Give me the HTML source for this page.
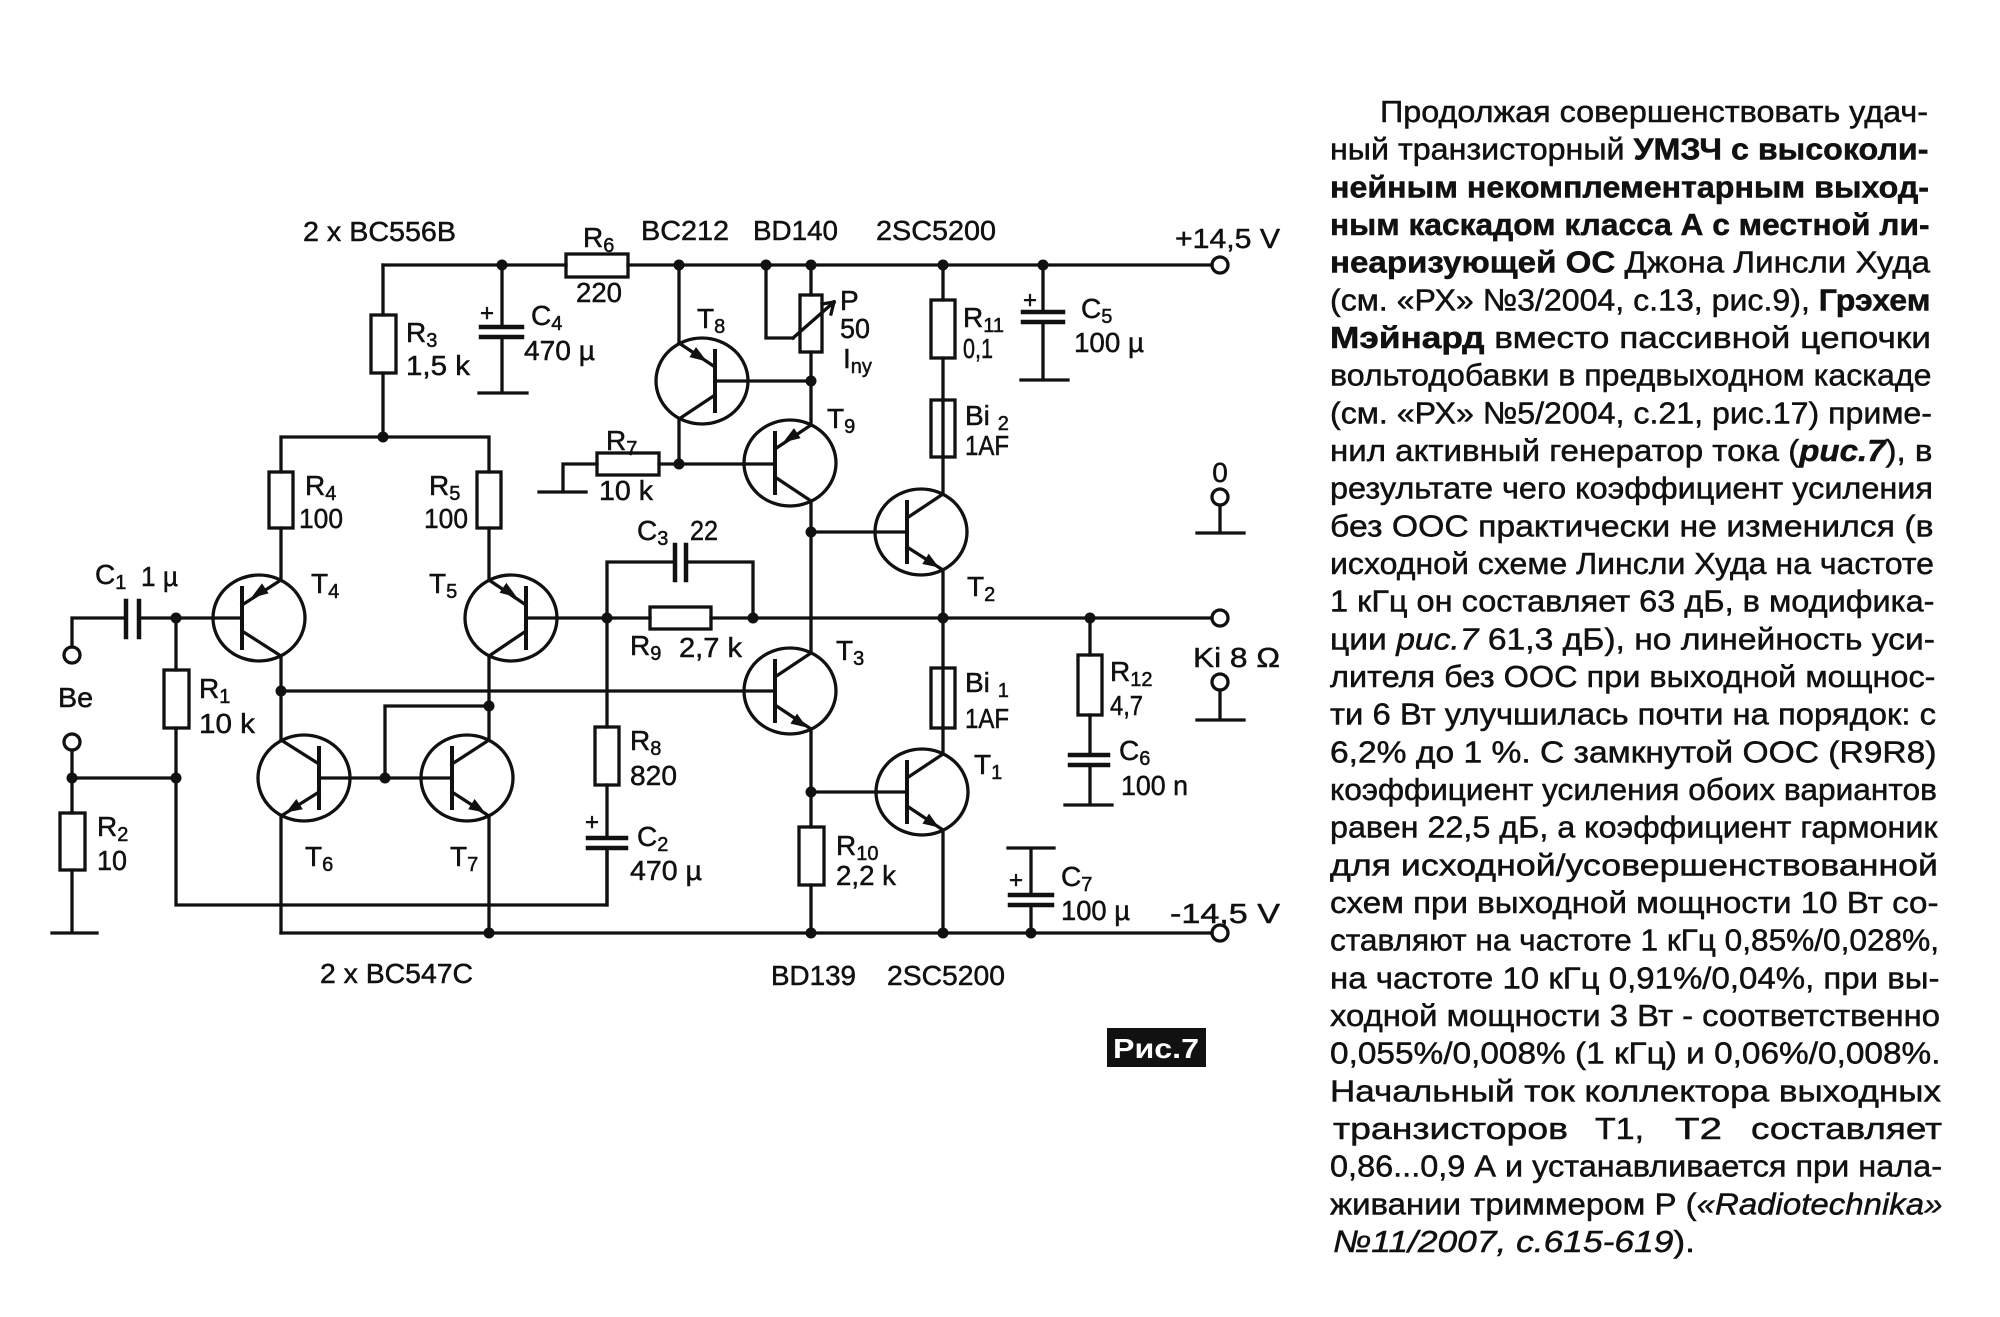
<!DOCTYPE html>
<html>
<head>
<meta charset="utf-8">
<style>
html,body{margin:0;padding:0;background:#fff;}
body{width:2000px;height:1317px;overflow:hidden;}
svg{display:block;}
</style>
</head>
<body>
<svg width="2000" height="1317" viewBox="0 0 2000 1317" xmlns="http://www.w3.org/2000/svg">
<rect x="0" y="0" width="2000" height="1317" fill="#fff"/>
<g stroke="#111" stroke-width="3.3" fill="none" stroke-linecap="square" stroke-linejoin="miter">
  <!-- top rail -->
  <path d="M383 265 H566 M628 265 H1212"/>
  <rect x="566" y="254" width="62" height="23"/>
  <!-- R3 -->
  <path d="M383 265 V315 M383 373 V437"/>
  <rect x="371" y="315" width="25" height="58"/>
  <!-- C4 -->
  <path d="M502 265 V327 M502 337 V393 M479 393 H527"/>
  <path d="M481 327 H522 M481 337 H522" stroke-width="4.5"/>
  <!-- R4 R5 -->
  <path d="M281 437 H489 M281 437 V472 M281 528 V580 M489 437 V472 M489 528 V580"/>
  <rect x="269" y="472" width="24" height="56"/>
  <rect x="477" y="472" width="24" height="56"/>
  <!-- T4 -->
  <ellipse cx="259" cy="618" rx="46" ry="43"/>
  <path d="M242 588 V648" stroke-width="4"/>
  <path d="M281 580 L242 605 M242 631 L281 656 M281 656 V740"/>
  <!-- input -->
  <path d="M72 647 V618 H126 M139 618 H242"/>
  <path d="M126 601 V637 M139 601 V637" stroke-width="4.5"/>
  <circle cx="72" cy="655" r="8"/>
  <circle cx="72" cy="742" r="8"/>
  <path d="M72 750 V813 M72 870 V933 M52 933 H97 M72 778 H176"/>
  <rect x="60" y="813" width="25" height="57"/>
  <!-- R1 -->
  <path d="M176 618 V670 M176 728 V905 H607 V848"/>
  <rect x="164" y="670" width="25" height="58"/>
  <!-- T5 -->
  <ellipse cx="511" cy="618" rx="46" ry="43"/>
  <path d="M526 588 V648" stroke-width="4"/>
  <path d="M489 580 L526 605 M526 631 L489 656 M489 656 V740 M526 618 H650"/>
  <!-- T6 -->
  <ellipse cx="304" cy="778" rx="46" ry="43"/>
  <path d="M319 748 V808" stroke-width="4"/>
  <path d="M319 764 L281 740 M319 792 L281 816 M281 816 V933"/>
  <!-- T7 -->
  <ellipse cx="467" cy="778" rx="46" ry="43"/>
  <path d="M452 748 V808" stroke-width="4"/>
  <path d="M452 764 L489 740 M452 792 L489 816 M489 816 V933"/>
  <path d="M319 778 H452 M385 778 V706 H489"/>
  <!-- T3 base line -->
  <path d="M281 691 H775"/>
  <!-- bottom rail -->
  <path d="M281 933 H1212"/>
  <!-- R8 C2 -->
  <path d="M607 618 V727 M607 785 V838 M607 848 V905"/>
  <rect x="595" y="727" width="24" height="58"/>
  <path d="M588 838 H626 M588 848 H626" stroke-width="4.5"/>
  <!-- C3 -->
  <path d="M607 618 V562 H675 M686 562 H753 V618"/>
  <path d="M675 545 V580 M686 545 V580" stroke-width="4.5"/>
  <!-- R9 and output line -->
  <rect x="650" y="607" width="61" height="22"/>
  <path d="M711 618 H1212"/>
  <!-- T8 -->
  <path d="M679 265 V343"/>
  <ellipse cx="702" cy="381" rx="46" ry="43"/>
  <path d="M715 351 V411" stroke-width="4"/>
  <path d="M679 343 L715 367 M715 395 L679 419 M679 419 V464 M715 381 H811"/>
  <!-- R7 -->
  <path d="M539 492 H586 M563 492 V464 H597 M659 464 H775"/>
  <rect x="597" y="453" width="62" height="22"/>
  <!-- T9 -->
  <ellipse cx="790" cy="463" rx="46" ry="43"/>
  <path d="M775 433 V493" stroke-width="4"/>
  <path d="M811 425 L775 449 M775 477 L811 501"/>
  <!-- P -->
  <path d="M766 265 V338 H793 M793 338 L834 302 M834 302 L822 304 M834 302 L831 314"/>
  <rect x="800" y="295" width="22" height="57"/>
  <path d="M811 265 V295 M811 352 V425 M811 501 V653"/>
  <path d="M811 532 H907"/>
  <!-- T3 -->
  <ellipse cx="790" cy="691" rx="46" ry="43"/>
  <path d="M775 661 V721" stroke-width="4"/>
  <path d="M775 677 L811 653 M775 705 L811 729 M811 729 V827 M811 885 V933 M811 792 H907"/>
  <rect x="799" y="827" width="25" height="58"/>
  <!-- right column 943 -->
  <path d="M943 265 V300 M943 358 V400 M943 400 V457 M943 457 V494"/>
  <rect x="931" y="300" width="24" height="58"/>
  <rect x="931" y="400" width="24" height="57"/>
  <ellipse cx="921" cy="532" rx="46" ry="43"/>
  <path d="M907 502 V562" stroke-width="4"/>
  <path d="M907 518 L943 494 M907 547 L943 570 M943 570 V668 M943 668 V728 M943 728 V754"/>
  <rect x="931" y="668" width="24" height="60"/>
  <ellipse cx="922" cy="792" rx="46" ry="43"/>
  <path d="M907 762 V822" stroke-width="4"/>
  <path d="M907 778 L943 754 M907 806 L943 830 M943 830 V933"/>
  <!-- C5 -->
  <path d="M1043 265 V312 M1043 322 V380 M1021 380 H1068"/>
  <path d="M1023 312 H1063 M1023 322 H1063" stroke-width="4.5"/>
  <!-- R12 C6 -->
  <path d="M1090 618 V655 M1090 715 V755 M1090 765 V805 M1065 805 H1112"/>
  <rect x="1078" y="655" width="24" height="60"/>
  <path d="M1070 755 H1108 M1070 765 H1108" stroke-width="4.5"/>
  <!-- C7 -->
  <path d="M1008 848 H1054 M1031 848 V895 M1031 905 V933"/>
  <path d="M1010 895 H1052 M1010 905 H1052" stroke-width="4.5"/>
  <!-- terminals -->
  <circle cx="1220" cy="265" r="8"/>
  <circle cx="1220" cy="618" r="8"/>
  <circle cx="1220" cy="933" r="8"/>
  <circle cx="1220" cy="497" r="8"/>
  <path d="M1220 505 V533 M1197 533 H1244"/>
  <circle cx="1220" cy="682" r="8"/>
  <path d="M1220 690 V720 M1197 720 H1244"/>
</g>
<!-- arrowheads -->
<g fill="#111" stroke="none">
  <polygon points="286,812.5 296.4,799 302.8,809.2"/>
  <polygon points="485,812.5 468.2,809.2 474.6,799"/>
  <polygon points="807,727.5 790.4,723.6 797,713.6"/>
  <polygon points="939,567.5 922.3,564 928.7,553.8"/>
  <polygon points="939,827.5 922.4,823.6 929,813.6"/>
  <polygon points="251,598 262,583.4 268.6,593.4"/>
  <polygon points="517,597.5 499.5,592.7 506.4,582.9"/>
  <polygon points="707,361.5 689.4,357.1 696,347.1"/>
  <polygon points="783,442.5 794,428.1 800.6,438.1"/>
  <!-- dots -->
  <circle cx="502" cy="265" r="5.5"/>
  <circle cx="679" cy="265" r="5.5"/>
  <circle cx="766" cy="265" r="5.5"/>
  <circle cx="811" cy="265" r="5.5"/>
  <circle cx="943" cy="265" r="5.5"/>
  <circle cx="1043" cy="265" r="5.5"/>
  <circle cx="383" cy="437" r="5.5"/>
  <circle cx="176" cy="618" r="5.5"/>
  <circle cx="607" cy="618" r="5.5"/>
  <circle cx="753" cy="618" r="5.5"/>
  <circle cx="943" cy="618" r="5.5"/>
  <circle cx="1090" cy="618" r="5.5"/>
  <circle cx="281" cy="691" r="5.5"/>
  <circle cx="489" cy="706" r="5.5"/>
  <circle cx="385" cy="778" r="5.5"/>
  <circle cx="72" cy="778" r="5.5"/>
  <circle cx="176" cy="778" r="5.5"/>
  <circle cx="679" cy="464" r="5.5"/>
  <circle cx="811" cy="381" r="5.5"/>
  <circle cx="811" cy="532" r="5.5"/>
  <circle cx="811" cy="792" r="5.5"/>
  <circle cx="489" cy="933" r="5.5"/>
  <circle cx="811" cy="933" r="5.5"/>
  <circle cx="943" cy="933" r="5.5"/>
  <circle cx="1031" cy="933" r="5.5"/>
</g>
<!-- schematic labels -->
<g font-family="'Liberation Sans', 'DejaVu Sans', sans-serif" font-size="28" fill="#111" stroke="#111" stroke-width="0.5">
  <text x="303" y="241" textLength="153" lengthAdjust="spacingAndGlyphs">2 x BC556B</text>
  <text x="583" y="247">R<tspan font-size="20" dy="5">6</tspan></text>
  <text x="576" y="302" textLength="46" lengthAdjust="spacingAndGlyphs">220</text>
  <text x="641" y="240" textLength="88" lengthAdjust="spacingAndGlyphs">BC212</text>
  <text x="753" y="240" textLength="85" lengthAdjust="spacingAndGlyphs">BD140</text>
  <text x="876" y="240" textLength="120" lengthAdjust="spacingAndGlyphs">2SC5200</text>
  <text x="1175" y="248" textLength="105" lengthAdjust="spacingAndGlyphs">+14,5 V</text>
  <text x="406" y="342">R<tspan font-size="20" dy="5">3</tspan></text>
  <text x="406" y="375" textLength="64" lengthAdjust="spacingAndGlyphs">1,5 k</text>
  <text x="487" y="321" text-anchor="middle" font-size="24">+</text>
  <text x="531" y="325">C<tspan font-size="20" dy="5">4</tspan></text>
  <text x="524" y="360" textLength="71" lengthAdjust="spacingAndGlyphs">470 µ</text>
  <text x="697" y="328">T<tspan font-size="20" dy="5">8</tspan></text>
  <text x="840" y="310">P</text>
  <text x="840" y="338" textLength="30" lengthAdjust="spacingAndGlyphs">50</text>
  <text x="843" y="368">I<tspan font-size="20" dy="5">ny</tspan></text>
  <text x="963" y="327">R<tspan font-size="20" dy="5">11</tspan></text>
  <text x="963" y="358" textLength="30" lengthAdjust="spacingAndGlyphs">0,1</text>
  <text x="1030" y="308" text-anchor="middle" font-size="24">+</text>
  <text x="1081" y="318">C<tspan font-size="20" dy="5">5</tspan></text>
  <text x="1074" y="352" textLength="70" lengthAdjust="spacingAndGlyphs">100 µ</text>
  <text x="305" y="495">R<tspan font-size="20" dy="5">4</tspan></text>
  <text x="299" y="528" textLength="44" lengthAdjust="spacingAndGlyphs">100</text>
  <text x="429" y="495">R<tspan font-size="20" dy="5">5</tspan></text>
  <text x="424" y="528" textLength="44" lengthAdjust="spacingAndGlyphs">100</text>
  <text x="606" y="450">R<tspan font-size="20" dy="5">7</tspan></text>
  <text x="599" y="500" textLength="54" lengthAdjust="spacingAndGlyphs">10 k</text>
  <text x="827" y="428">T<tspan font-size="20" dy="5">9</tspan></text>
  <text x="965" y="425">Bi <tspan font-size="20" dy="5">2</tspan></text>
  <text x="965" y="455" textLength="44" lengthAdjust="spacingAndGlyphs">1AF</text>
  <text x="1220" y="482" text-anchor="middle">0</text>
  <text x="637" y="540">C<tspan font-size="20" dy="5">3</tspan></text>
  <text x="690" y="540" textLength="28" lengthAdjust="spacingAndGlyphs">22</text>
  <text x="95" y="584">C<tspan font-size="20" dy="5">1</tspan></text>
  <text x="141" y="586" textLength="37" lengthAdjust="spacingAndGlyphs">1 µ</text>
  <text x="311" y="593">T<tspan font-size="20" dy="5">4</tspan></text>
  <text x="429" y="593">T<tspan font-size="20" dy="5">5</tspan></text>
  <text x="967" y="596">T<tspan font-size="20" dy="5">2</tspan></text>
  <text x="58" y="707" textLength="35" lengthAdjust="spacingAndGlyphs">Be</text>
  <text x="199" y="698">R<tspan font-size="20" dy="5">1</tspan></text>
  <text x="199" y="733" textLength="56" lengthAdjust="spacingAndGlyphs">10 k</text>
  <text x="97" y="836">R<tspan font-size="20" dy="5">2</tspan></text>
  <text x="97" y="870" textLength="30" lengthAdjust="spacingAndGlyphs">10</text>
  <text x="305" y="866">T<tspan font-size="20" dy="5">6</tspan></text>
  <text x="450" y="866">T<tspan font-size="20" dy="5">7</tspan></text>
  <text x="320" y="983" textLength="153" lengthAdjust="spacingAndGlyphs">2 x BC547C</text>
  <text x="630" y="655">R<tspan font-size="20" dy="5">9</tspan></text>
  <text x="679" y="657" textLength="63" lengthAdjust="spacingAndGlyphs">2,7 k</text>
  <text x="836" y="660">T<tspan font-size="20" dy="5">3</tspan></text>
  <text x="965" y="692">Bi <tspan font-size="20" dy="5">1</tspan></text>
  <text x="965" y="728" textLength="44" lengthAdjust="spacingAndGlyphs">1AF</text>
  <text x="1110" y="681">R<tspan font-size="20" dy="5">12</tspan></text>
  <text x="1110" y="715" textLength="33" lengthAdjust="spacingAndGlyphs">4,7</text>
  <text x="1193" y="667" textLength="87" lengthAdjust="spacingAndGlyphs">Ki  8 Ω</text>
  <text x="974" y="774">T<tspan font-size="20" dy="5">1</tspan></text>
  <text x="630" y="750">R<tspan font-size="20" dy="5">8</tspan></text>
  <text x="630" y="785" textLength="47" lengthAdjust="spacingAndGlyphs">820</text>
  <text x="1119" y="760">C<tspan font-size="20" dy="5">6</tspan></text>
  <text x="1121" y="795" textLength="67" lengthAdjust="spacingAndGlyphs">100 n</text>
  <text x="836" y="855">R<tspan font-size="20" dy="5">10</tspan></text>
  <text x="836" y="885" textLength="60" lengthAdjust="spacingAndGlyphs">2,2 k</text>
  <text x="592" y="830" text-anchor="middle" font-size="24">+</text>
  <text x="637" y="846">C<tspan font-size="20" dy="5">2</tspan></text>
  <text x="630" y="880" textLength="72" lengthAdjust="spacingAndGlyphs">470 µ</text>
  <text x="1016" y="888" text-anchor="middle" font-size="24">+</text>
  <text x="1061" y="886">C<tspan font-size="20" dy="5">7</tspan></text>
  <text x="1061" y="920" textLength="69" lengthAdjust="spacingAndGlyphs">100 µ</text>
  <text x="1170" y="923" textLength="110" lengthAdjust="spacingAndGlyphs">-14,5 V</text>
  <text x="771" y="985" textLength="85" lengthAdjust="spacingAndGlyphs">BD139</text>
  <text x="887" y="985" textLength="118" lengthAdjust="spacingAndGlyphs">2SC5200</text>
</g>
<!-- Рис.7 -->
<rect x="1107" y="1028" width="99" height="39" fill="#111"/>
<text x="1113" y="1058" font-family="'Liberation Sans', 'DejaVu Sans', sans-serif" font-size="28" font-weight="bold" fill="#fff" textLength="86" lengthAdjust="spacingAndGlyphs">Рис.7</text>
<!-- article text -->
<g font-family="'Liberation Sans', 'DejaVu Sans', sans-serif" font-size="31" fill="#111" stroke="#111" stroke-width="0.5">
  <text x="1380" y="122" textLength="548" lengthAdjust="spacingAndGlyphs">Продолжая совершенствовать удач-</text>
  <text x="1330" y="159.7" textLength="598.5" lengthAdjust="spacingAndGlyphs">ный транзисторный <tspan font-weight="bold">УМЗЧ с высоколи-</tspan></text>
  <text x="1330" y="197.3" textLength="599" lengthAdjust="spacingAndGlyphs" font-weight="bold">нейным некомплементарным выход-</text>
  <text x="1330" y="235" textLength="599.5" lengthAdjust="spacingAndGlyphs" font-weight="bold">ным каскадом класса А с местной ли-</text>
  <text x="1330" y="272.7" textLength="600" lengthAdjust="spacingAndGlyphs"><tspan font-weight="bold">неаризующей ОС</tspan> Джона Линсли Худа</text>
  <text x="1330" y="310.4" textLength="600.5" lengthAdjust="spacingAndGlyphs">(см. «РХ» №3/2004, с.13, рис.9), <tspan font-weight="bold">Грэхем</tspan></text>
  <text x="1330" y="348" textLength="601" lengthAdjust="spacingAndGlyphs"><tspan font-weight="bold">Мэйнард</tspan> вместо пассивной цепочки</text>
  <text x="1330" y="385.7" textLength="601.5" lengthAdjust="spacingAndGlyphs">вольтодобавки в предвыходном каскаде</text>
  <text x="1330" y="423.4" textLength="602" lengthAdjust="spacingAndGlyphs">(см. «РХ» №5/2004, с.21, рис.17) приме-</text>
  <text x="1330" y="461" textLength="602.5" lengthAdjust="spacingAndGlyphs">нил активный генератор тока (<tspan font-weight="bold" font-style="italic">рис.7</tspan>), в</text>
  <text x="1330" y="498.7" textLength="603" lengthAdjust="spacingAndGlyphs">результате чего коэффициент усиления</text>
  <text x="1330" y="536.4" textLength="603.5" lengthAdjust="spacingAndGlyphs">без ООС практически не изменился (в</text>
  <text x="1330" y="574" textLength="604" lengthAdjust="spacingAndGlyphs">исходной схеме Линсли Худа на частоте</text>
  <text x="1330" y="611.7" textLength="604.5" lengthAdjust="spacingAndGlyphs">1 кГц он составляет 63 дБ, в модифика-</text>
  <text x="1330" y="649.4" textLength="605" lengthAdjust="spacingAndGlyphs">ции <tspan font-style="italic">рис.7</tspan> 61,3 дБ), но линейность уси-</text>
  <text x="1330" y="687" textLength="605.5" lengthAdjust="spacingAndGlyphs">лителя без ООС при выходной мощнос-</text>
  <text x="1330" y="724.7" textLength="606" lengthAdjust="spacingAndGlyphs">ти 6 Вт улучшилась почти на порядок: с</text>
  <text x="1330" y="762.4" textLength="606.5" lengthAdjust="spacingAndGlyphs">6,2% до 1 %. С замкнутой ООС (R9R8)</text>
  <text x="1330" y="800" textLength="607" lengthAdjust="spacingAndGlyphs">коэффициент усиления обоих вариантов</text>
  <text x="1330" y="837.7" textLength="607.5" lengthAdjust="spacingAndGlyphs">равен 22,5 дБ, а коэффициент гармоник</text>
  <text x="1330" y="875.4" textLength="608" lengthAdjust="spacingAndGlyphs">для  исходной/усовершенствованной</text>
  <text x="1330" y="913" textLength="608.5" lengthAdjust="spacingAndGlyphs">схем при выходной мощности 10 Вт со-</text>
  <text x="1330" y="950.7" textLength="609" lengthAdjust="spacingAndGlyphs">ставляют на частоте 1 кГц 0,85%/0,028%,</text>
  <text x="1330" y="988.4" textLength="609.5" lengthAdjust="spacingAndGlyphs">на частоте 10 кГц 0,91%/0,04%, при вы-</text>
  <text x="1330" y="1026" textLength="610" lengthAdjust="spacingAndGlyphs">ходной мощности 3 Вт - соответственно</text>
  <text x="1330" y="1063.7" textLength="610.5" lengthAdjust="spacingAndGlyphs">0,055%/0,008% (1 кГц) и 0,06%/0,008%.</text>
  <text x="1330" y="1101.4" textLength="611" lengthAdjust="spacingAndGlyphs">Начальный ток коллектора выходных</text>
  <text x="1333" y="1139" textLength="235" lengthAdjust="spacingAndGlyphs">транзисторов</text>
  <text x="1595" y="1139" textLength="49" lengthAdjust="spacingAndGlyphs">Т1,</text>
  <text x="1675" y="1139" textLength="47" lengthAdjust="spacingAndGlyphs">Т2</text>
  <text x="1751" y="1139" textLength="191" lengthAdjust="spacingAndGlyphs">составляет</text>
  <text x="1330" y="1176.7" textLength="612" lengthAdjust="spacingAndGlyphs">0,86...0,9 А и устанавливается при нала-</text>
  <text x="1330" y="1214.4" textLength="612.5" lengthAdjust="spacingAndGlyphs">живании триммером Р (<tspan font-style="italic">«Radiotechnika»</tspan></text>
  <text x="1333" y="1252" textLength="362" lengthAdjust="spacingAndGlyphs"><tspan font-style="italic">№11/2007, с.615-619</tspan>).</text>
</g>
</svg>
</body>
</html>
